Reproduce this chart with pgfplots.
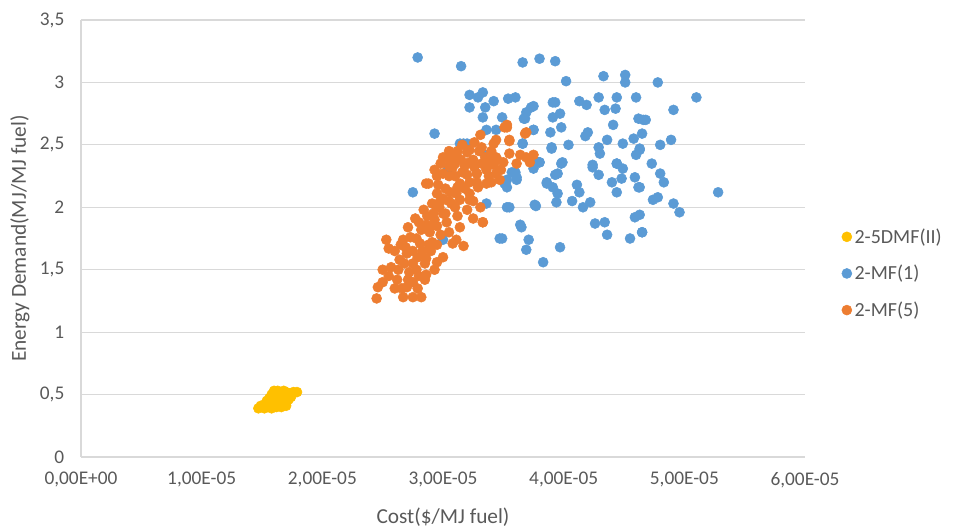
\documentclass[border=0pt]{standalone}
\usepackage{fontspec}
\setmainfont{Carlito}
\usepackage{pgfplots}
\pgfplotsset{compat=1.18}
\definecolor{cyel}{HTML}{FFC000}
\definecolor{cblu}{HTML}{5B9BD5}
\definecolor{cora}{HTML}{ED7D31}
\definecolor{cgrid}{HTML}{D9D9D9}
\definecolor{ctxt}{HTML}{595959}
\begin{document}
\begin{tikzpicture}
\begin{axis}[
  scale only axis, width=543pt, height=327.75pt,
  xmin=0, xmax=6e-5, ymin=0, ymax=3.5,
  axis x line*=bottom, axis y line*=left,
  axis line style={cgrid, line width=0.9pt, -},
  ymajorgrids, grid style={cgrid, line width=0.9pt},
  xtick={0,1e-5,2e-5,3e-5,4e-5,5e-5,6e-5},
  xticklabels={{0,00E+00},{1,00E-05},{2,00E-05},{3,00E-05},{4,00E-05},{5,00E-05},{6,00E-05}},
  scaled x ticks=false,
  ytick={0,0.5,1,1.5,2,2.5,3,3.5},
  yticklabels={0,{0,5},1,{1,5},2,{2,5},3,{3,5}},
  major tick length=0pt,
  tick label style={font=\fontsize{14.5}{17}\selectfont, text=ctxt},
  xticklabel style={yshift=-8pt},
  yticklabel style={xshift=-9pt},
  xlabel={Cost(\$/MJ fuel)},
  ylabel={Energy Demand(MJ/MJ fuel)},
  label style={font=\fontsize{16}{19}\selectfont, text=ctxt},
  xlabel style={at={(axis description cs:0.5,-0.1373)}, anchor=center},
  ylabel style={at={(axis description cs:-0.0843,0.5)}, anchor=center},
  legend style={at={(rel axis cs:1.045,0.42)}, anchor=west, draw=none, fill=none,
    font=\fontsize{15}{18}\selectfont, text=ctxt, row sep=11pt},
  legend cell align=left,
  every axis plot/.append style={only marks, mark=*, mark size=3.75pt},
]
\addplot[color=cyel] table {
1.47e-5 0.39
1.50e-5 0.40
1.52e-5 0.39
1.55e-5 0.40
1.58e-5 0.39
1.62e-5 0.40
1.66e-5 0.40
1.70e-5 0.41
1.49e-5 0.41
1.52e-5 0.42
1.55e-5 0.44
1.58e-5 0.43
1.61e-5 0.44
1.64e-5 0.43
1.67e-5 0.44
1.70e-5 0.43
1.54e-5 0.45
1.56e-5 0.47
1.59e-5 0.48
1.62e-5 0.47
1.65e-5 0.48
1.68e-5 0.47
1.72e-5 0.46
1.74e-5 0.48
1.58e-5 0.50
1.61e-5 0.51
1.64e-5 0.52
1.67e-5 0.51
1.70e-5 0.52
1.73e-5 0.51
1.76e-5 0.52
1.79e-5 0.52
1.60e-5 0.53
1.63e-5 0.53
1.68e-5 0.53
};
\addlegendentry{2-5DMF(II)}
\addplot[color=cblu] table {
2.79e-5 3.20
3.15e-5 3.13
3.22e-5 2.90
3.33e-5 2.92
3.29e-5 2.88
3.42e-5 2.85
3.22e-5 2.80
3.35e-5 2.80
3.33e-5 2.72
3.49e-5 2.72
2.93e-5 2.59
3.14e-5 2.51
3.20e-5 2.51
3.36e-5 2.62
3.44e-5 2.62
3.35e-5 2.42
3.54e-5 2.87
3.66e-5 3.16
3.80e-5 3.19
3.93e-5 3.17
4.02e-5 3.01
4.33e-5 3.05
4.51e-5 3.06
4.51e-5 3.00
3.60e-5 2.88
3.75e-5 2.81
3.69e-5 2.76
3.67e-5 2.71
3.93e-5 2.84
3.91e-5 2.72
3.97e-5 2.75
3.98e-5 2.64
4.13e-5 2.85
4.19e-5 2.82
4.29e-5 2.88
4.44e-5 2.88
4.34e-5 2.78
4.43e-5 2.79
4.60e-5 2.88
4.20e-5 2.60
4.18e-5 2.57
4.41e-5 2.66
3.89e-5 2.60
3.75e-5 2.62
3.90e-5 2.48
4.04e-5 2.50
4.36e-5 2.54
4.29e-5 2.48
4.30e-5 2.43
4.49e-5 2.51
4.62e-5 2.71
4.66e-5 2.70
4.58e-5 2.55
4.60e-5 2.42
4.63e-5 2.47
3.98e-5 2.35
3.80e-5 2.36
3.66e-5 2.51
4.24e-5 2.34
4.44e-5 2.35
4.78e-5 3.00
5.10e-5 2.88
4.91e-5 2.78
4.68e-5 2.70
4.65e-5 2.59
4.89e-5 2.54
4.80e-5 2.50
4.63e-5 2.46
4.73e-5 2.35
4.80e-5 2.27
4.83e-5 2.20
4.63e-5 2.16
5.28e-5 2.12
4.74e-5 2.06
4.78e-5 2.08
4.91e-5 2.03
4.96e-5 1.96
4.65e-5 1.80
4.63e-5 1.94
3.99e-5 2.36
4.24e-5 2.32
4.29e-5 2.26
4.44e-5 2.35
4.49e-5 2.31
4.48e-5 2.23
4.40e-5 2.20
4.44e-5 2.12
4.59e-5 2.24
4.62e-5 2.16
3.95e-5 2.27
3.86e-5 2.20
3.91e-5 2.16
3.95e-5 2.11
3.94e-5 2.04
4.11e-5 2.18
4.13e-5 2.12
4.07e-5 2.05
4.16e-5 2.00
4.22e-5 2.04
3.77e-5 2.01
3.55e-5 2.00
3.53e-5 2.16
3.61e-5 2.22
3.60e-5 2.28
3.80e-5 2.36
3.65e-5 1.84
3.71e-5 1.74
3.69e-5 1.66
3.83e-5 1.56
3.97e-5 1.68
4.26e-5 1.87
4.34e-5 1.88
4.36e-5 1.78
4.59e-5 1.92
4.55e-5 1.75
4.65e-5 1.80
3.49e-5 1.75
2.75e-5 2.12
3.47e-5 1.75
3.00e-5 1.74
3.53e-5 2.00
3.03e-5 2.28
3.51e-5 2.19
3.36e-5 2.03
3.57e-5 2.28
3.61e-5 2.24
3.53e-5 2.22
3.75e-5 2.31
3.79e-5 2.36
3.86e-5 2.19
3.64e-5 1.86
3.04e-5 2.30
3.17e-5 2.51
3.66e-5 2.51
3.90e-5 2.47
3.93e-5 2.26
3.75e-5 2.62
3.68e-5 2.71
3.73e-5 2.80
3.91e-5 2.84
3.76e-5 2.02
};
\addlegendentry{2-MF(1)}
\addplot[color=cora] table {
2.45e-5 1.27
2.46e-5 1.36
2.50e-5 1.50
2.57e-5 1.52
2.53e-5 1.74
2.55e-5 1.67
2.66e-5 1.35
2.67e-5 1.28
2.75e-5 1.28
2.82e-5 1.28
2.79e-5 1.35
2.71e-5 1.42
2.86e-5 1.46
2.95e-5 1.56
2.93e-5 1.50
2.64e-5 1.58
2.70e-5 1.63
2.79e-5 1.60
2.86e-5 1.59
2.67e-5 1.74
2.73e-5 1.76
2.81e-5 1.71
2.91e-5 1.72
2.95e-5 1.70
2.71e-5 1.84
2.77e-5 1.91
2.84e-5 1.98
2.86e-5 1.86
2.89e-5 1.80
2.93e-5 1.90
2.88e-5 2.19
2.95e-5 2.11
2.97e-5 2.00
3.03e-5 1.88
3.02e-5 1.95
3.08e-5 1.71
3.17e-5 1.69
3.11e-5 1.74
3.14e-5 1.84
3.07e-5 2.03
3.06e-5 2.12
3.14e-5 2.06
3.20e-5 1.98
3.25e-5 1.91
3.33e-5 1.88
3.31e-5 2.00
3.22e-5 2.11
3.29e-5 2.16
3.14e-5 2.19
3.20e-5 2.26
3.08e-5 2.32
3.00e-5 2.27
3.28e-5 2.27
3.36e-5 2.30
3.44e-5 2.27
3.39e-5 2.35
2.96e-5 2.18
2.91e-5 2.03
3.00e-5 2.07
3.31e-5 2.58
3.53e-5 2.64
3.04e-5 2.39
3.11e-5 2.42
3.20e-5 2.44
3.22e-5 2.36
3.42e-5 2.51
3.44e-5 2.40
3.36e-5 2.32
3.51e-5 2.64
3.68e-5 2.59
3.55e-5 2.53
3.69e-5 2.40
3.64e-5 2.42
3.55e-5 2.43
3.72e-5 2.36
3.61e-5 2.35
3.50e-5 2.36
3.53e-5 2.66
3.69e-5 2.60
3.55e-5 2.54
3.44e-5 2.54
3.06e-5 2.40
3.22e-5 2.46
3.75e-5 2.42
3.42e-5 2.34
3.28e-5 2.27
3.47e-5 2.22
3.36e-5 2.19
2.86e-5 2.19
3.11e-5 2.11
3.22e-5 2.06
3.33e-5 1.88
3.10e-5 2.25
3.18e-5 2.33
3.25e-5 2.38
3.30e-5 2.45
3.05e-5 2.25
2.98e-5 2.35
3.15e-5 2.38
3.35e-5 2.40
3.40e-5 2.45
3.45e-5 2.38
3.48e-5 2.30
3.38e-5 2.25
3.12e-5 1.93
3.05e-5 1.80
2.98e-5 1.78
2.90e-5 1.65
2.85e-5 1.55
2.78e-5 1.50
2.72e-5 1.48
2.62e-5 1.42
2.75e-5 1.40
2.85e-5 1.42
2.68e-5 1.55
2.60e-5 1.65
2.65e-5 1.70
2.82e-5 1.82
2.78e-5 1.75
2.92e-5 1.95
2.98e-5 2.05
3.02e-5 2.15
3.10e-5 2.00
3.18e-5 2.15
3.25e-5 2.05
3.28e-5 2.20
2.95e-5 2.25
3.00e-5 2.40
3.05e-5 2.45
3.10e-5 2.35
2.50e-5 1.40
2.55e-5 1.45
2.60e-5 1.35
2.63e-5 1.50
2.70e-5 1.36
2.75e-5 1.55
2.80e-5 1.45
2.69e-5 1.68
2.75e-5 1.65
2.83e-5 1.65
2.88e-5 1.70
2.80e-5 1.88
2.87e-5 1.93
2.95e-5 1.85
3.00e-5 1.95
2.94e-5 2.02
3.05e-5 2.05
3.12e-5 2.16
3.16e-5 2.28
3.22e-5 2.20
3.26e-5 2.32
3.32e-5 2.35
3.12e-5 2.45
3.16e-5 2.50
3.26e-5 2.52
3.32e-5 2.48
3.40e-5 2.38
3.05e-5 2.33
2.93e-5 2.30
3.40e-5 2.20
2.90e-5 1.85
3.00e-5 1.60
};
\addlegendentry{2-MF(5)}
\coordinate (bl) at (rel axis cs:0,0);
\coordinate (tr) at (rel axis cs:1,1);
\end{axis}
\pgfresetboundingbox
\path ([shift={(-60.75pt,-55.5pt)}]bl) rectangle ([shift={(126.75pt,15pt)}]tr);
\end{tikzpicture}
\end{document}
